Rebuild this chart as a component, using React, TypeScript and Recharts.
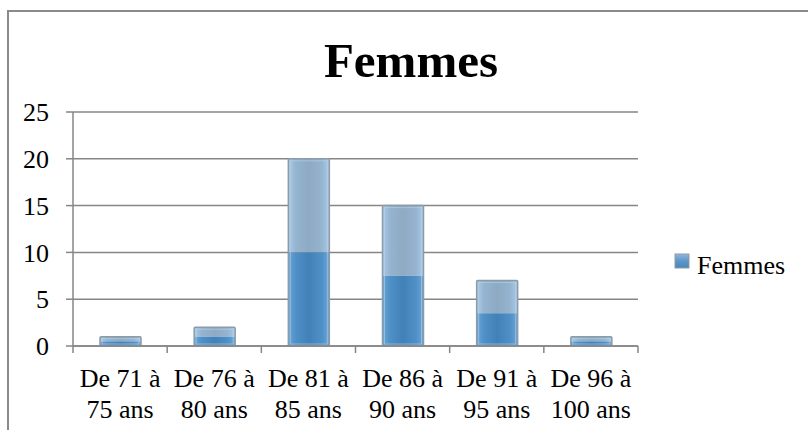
import { BarChart, Bar, XAxis, YAxis, CartesianGrid } from 'recharts';

const SERIF = 'Liberation Serif, Tinos, Times New Roman, DejaVu Serif, serif';

const ageGroups = [
  'De 71 à 75 ans',
  'De 76 à 80 ans',
  'De 81 à 85 ans',
  'De 86 à 90 ans',
  'De 91 à 95 ans',
  'De 96 à 100 ans',
];
const femmes = [1, 2, 20, 15, 7, 1];
const yTicks = [0, 5, 10, 15, 20, 25];

const data = ageGroups.map((group, i) => ({ group, femmes: femmes[i] }));

const textStyle = { fontFamily: SERIF, fontSize: 26, fill: '#000' };

// Excel-style glassy bar: lighter upper half, darker lower half
function GlassBar(props: any) {
  const { x, y, width, height } = props;
  if (!height || height <= 0) return null;
  const half = height / 2;
  return (
    <g>
      <rect x={x} y={y} width={width} height={half} fill="url(#barTop)" />
      <rect x={x} y={y + half} width={width} height={height - half} fill="url(#barBottom)" />
      <rect
        x={x + 2}
        y={y + 2}
        width={Math.max(width - 4, 0)}
        height={Math.max(height - 4, 0)}
        fill="none"
        stroke="#b9d6ee"
        strokeOpacity={0.55}
        strokeWidth={1}
      />
      <rect x={x} y={y} width={width} height={height} fill="none" stroke="#8d9ba7" strokeWidth={1.5} rx={1} />
    </g>
  );
}

// Two-line category label plus tick marks on the band edges
function AgeTick(props: any) {
  const { x, y, payload, index, visibleTicksCount } = props;
  const half = payload?.offset ?? 47;
  const [first, second] = String(payload.value).split(' à ');
  const isLast = index === (visibleTicksCount ?? ageGroups.length) - 1;
  return (
    <g>
      <line x1={x - half} y1={y} x2={x - half} y2={y + 7} stroke="#868686" strokeWidth={1.5} />
      {isLast && <line x1={x + half} y1={y} x2={x + half} y2={y + 7} stroke="#868686" strokeWidth={1.5} />}
      <text x={x} y={y} textAnchor="middle" style={textStyle}>
        <tspan x={x} dy={41}>{`${first} à`}</tspan>
        <tspan x={x} dy={31}>{second}</tspan>
      </text>
    </g>
  );
}

export default function App() {
  return (
    <div style={{ position: 'absolute', left: 0, top: 0, width: 808, height: 430, background: '#fff', fontFamily: SERIF }}>
      <BarChart
        width={808}
        height={430}
        data={data}
        margin={{ top: 112, right: 170, bottom: 0, left: 0 }}
      >
        <defs>
          <linearGradient id="barTop" x1="0" y1="0" x2="1" y2="0">
            <stop offset="0%" stopColor="#a9cbe8" />
            <stop offset="18%" stopColor="#95b4d0" />
            <stop offset="50%" stopColor="#8eaac3" />
            <stop offset="82%" stopColor="#95b4d0" />
            <stop offset="100%" stopColor="#a9cbe8" />
          </linearGradient>
          <linearGradient id="barBottom" x1="0" y1="0" x2="1" y2="0">
            <stop offset="0%" stopColor="#6ba7d9" />
            <stop offset="18%" stopColor="#4f90c6" />
            <stop offset="50%" stopColor="#4281b7" />
            <stop offset="82%" stopColor="#4f90c6" />
            <stop offset="100%" stopColor="#6ba7d9" />
          </linearGradient>
          <linearGradient id="legendSwatch" x1="0" y1="0" x2="0" y2="1">
            <stop offset="0%" stopColor="#8fb6da" />
            <stop offset="50%" stopColor="#5d97c9" />
            <stop offset="100%" stopColor="#4a86bb" />
          </linearGradient>
        </defs>
        <CartesianGrid vertical={false} stroke="#868686" strokeWidth={1.5} />
        <XAxis
          dataKey="group"
          height={84}
          interval={0}
          tickLine={false}
          tickSize={0}
          tickMargin={0}
          axisLine={{ stroke: '#868686', strokeWidth: 1.5 }}
          tick={<AgeTick />}
        />
        <YAxis
          width={73}
          domain={[0, 25]}
          ticks={yTicks}
          interval={0}
          tickSize={7}
          tickMargin={17}
          axisLine={{ stroke: '#868686', strokeWidth: 1.5 }}
          tickLine={{ stroke: '#868686', strokeWidth: 1.5 }}
          tick={{ ...textStyle, style: textStyle }}
        />
        <Bar dataKey="femmes" name="Femmes" barSize={41} shape={<GlassBar />} isAnimationActive={false} />
      </BarChart>
      <svg
        width={808}
        height={430}
        style={{ position: 'absolute', left: 0, top: 0, pointerEvents: 'none' }}
      >
        <path d="M8 430 V11 H808" fill="none" stroke="#8a8a8a" strokeWidth={2} />
        <text x={411} y={77} textAnchor="middle" style={{ ...textStyle, fontSize: 49, fontWeight: 'bold' }}>
          Femmes
        </text>
        <rect x={675} y={254} width={14} height={14} fill="url(#legendSwatch)" stroke="#8d9ba7" strokeWidth={1} />
        <text x={697} y={274} style={textStyle}>
          Femmes
        </text>
      </svg>
    </div>
  );
}
